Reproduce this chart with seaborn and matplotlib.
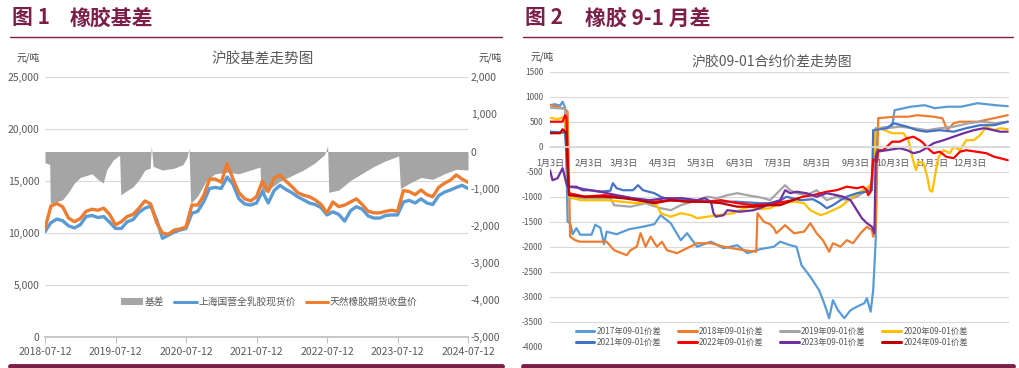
import numpy as np
import pandas as pd
import matplotlib
matplotlib.use("Agg")
import matplotlib.pyplot as plt
import seaborn as sns
from matplotlib.lines import Line2D
from matplotlib.patches import Patch
from matplotlib.ticker import FuncFormatter

sns.set_theme(style="white")
plt.rcParams["font.family"] = ["Noto Sans CJK SC", "DejaVu Sans"]
plt.rcParams["axes.unicode_minus"] = False

# ---- figure 1 data: months since 2018-07-12 ----
months = list(range(73))
year_ticks = [0, 12, 24, 36, 48, 60, 72]
year_labels = ["2018-07-12", "2019-07-12", "2020-07-12", "2021-07-12",
               "2022-07-12", "2023-07-12", "2024-07-12"]

futures = [10450, 12600, 12850, 12540, 11450, 11100, 11400, 12100, 12300, 12200,
           12400, 11800, 10800, 11100, 11600, 11800, 12400, 13100, 12800, 11000,
           10000, 9900, 10300, 10400, 10600, 12700, 12700, 13600, 15200, 15200,
           14900, 16700, 15200, 13900, 13300, 13100, 13500, 15000, 14000, 15300,
           15600, 15000, 14500, 13900, 13650, 13500, 13200, 12750, 11950, 13000,
           12550, 12700, 13000, 13300, 12750, 12100, 11950, 11950, 12100, 12200,
           12100, 14100, 14000, 13700, 14150, 13700, 13500, 14400, 14800, 15100,
           15600, 15200, 14900]

spot = [10140, 11000, 11350, 11200, 10700, 10500, 10800, 11600, 11700, 11500,
        11600, 11050, 10450, 10450, 11100, 11300, 12000, 12400, 12600, 11300,
        9500, 9800, 10100, 10300, 10450, 11900, 12100, 13000, 14300, 14400,
        14300, 15400, 14700, 13300, 12800, 12700, 12900, 14000, 12900, 14100,
        14600, 14200, 13900, 13500, 13200, 12900, 12750, 12450, 11750, 12050,
        11800, 11150, 12150, 12550, 12300, 11650, 11450, 11450, 11700, 11750,
        11750, 13000, 13150, 12900, 13300, 12900, 12750, 13600, 13950, 14150,
        14400, 14600, 14300]

basis_x = [0, 0.8, 0.9, 2, 3, 4, 5, 6, 7, 8,
           9, 9.9, 10.5, 11.6, 12.7, 12.9, 14, 15, 16, 17,
           17.9, 18.1, 18.4, 20, 22, 23.5, 24.2, 24.5, 24.8, 26,
           27.5, 29, 31, 33, 35, 36.6, 36.8, 38, 40, 42,
           44, 46, 47.6, 48.1, 48.3, 50, 52, 54, 56, 58,
           60.2, 60.5, 62, 64, 66, 68, 70, 72]
basis_y = [-300, -350, -1400, -1350, -1300, -1100, -850, -700, -650, -600,
           -750, -850, -500, -230, -100, -1170, -1050, -950, -760, -500,
           -450, 150, -400, -500, -450, -350, -150, 100, -1400, -1200,
           -770, -600, -560, -600, -500, -420, -1170, -1040, -800, -650,
           -500, -300, -80, 150, -1100, -1040, -780, -590, -400, -250,
           -120, -1000, -860, -700, -750, -600, -480, -500]

# ---- figure 2 data: day of year ----
month_ticks = [2, 33, 61, 92, 122, 153, 183, 214, 245, 275, 306, 336]
month_labels = ["1月3日", "2月3日", "3月3日", "4月3日", "5月3日", "6月3日",
                "7月3日", "8月3日", "9月3日", "10月3日", "11月3日", "12月3日"]

s2017_x = [2, 6, 10, 12, 14, 16, 18, 20, 23, 26, 35, 38, 42, 45, 47, 55, 65, 76, 85, 90,
           98, 106, 111, 119, 130, 140, 151, 159, 169, 180, 185, 193, 198, 202, 209, 216,
           220, 224, 227, 231, 236, 241, 246, 252, 254, 257, 259, 261, 262, 274, 276, 289,
           300, 308, 318, 329, 342, 356, 366]
s2017_y = [830, 850, 820, 900, 780, -1500, -1530, -1750, -1630, -1760, -1760, -1560, -1620,
           -1950, -1700, -1750, -1650, -1600, -1550, -1370, -1530, -1870, -1730, -2000, -1900,
           -2030, -1970, -2130, -2050, -2000, -1900, -1970, -2000, -2370, -2600, -2870, -3130,
           -3430, -3070, -3270, -3430, -3270, -3200, -3130, -3030, -3300, -2870, -1870, 370,
           400, 730, 800, 830, 770, 800, 800, 870, 830, 810]

s2018_x = [2, 8, 14, 16, 18, 22, 26, 47, 53, 59, 63, 66, 71, 74, 78, 82, 87, 91, 95, 103,
           111, 119, 130, 140, 156, 166, 167, 172, 177, 180, 182, 189, 196, 204, 209, 214,
           219, 224, 227, 233, 238, 243, 249, 254, 258, 259, 261, 263, 276, 287, 294, 307,
           314, 318, 323, 328, 342, 355, 366]
s2018_y = [830, 800, 750, 700, -1800, -1870, -1900, -1900, -2070, -2130, -2170, -2070, -2000,
           -1730, -2000, -1800, -2000, -1900, -2070, -2130, -2030, -1930, -1930, -2000, -2070,
           -2100, -1330, -1500, -1550, -1630, -1730, -1570, -1730, -1700, -1530, -1730, -1870,
           -2100, -1930, -2000, -1870, -1930, -1730, -1600, -1670, -1800, -1650, 570, 600, 600,
           630, 600, 570, 330, 470, 500, 500, 570, 630]

s2019_x = [2, 14, 17, 30, 50, 53, 66, 78, 90, 98, 106, 119, 127, 135, 143, 151, 159, 166,
           172, 177, 185, 189, 193, 198, 206, 214, 222, 230, 238, 246, 254, 258, 261, 270,
           280, 291, 302, 312, 323, 335, 345, 356, 366]
s2019_y = [780, 760, -1030, -1030, -1030, -1170, -1200, -1130, -1230, -1270, -1170, -1070,
           -1000, -1030, -970, -930, -970, -1000, -1030, -1070, -870, -770, -870, -930, -970,
           -870, -1070, -1000, -1070, -1000, -870, -770, 370, 370, 400, 370, 330, 370, 400, 470,
           500, 470, 500]

s2020_x = [2, 8, 14, 17, 26, 47, 59, 71, 79, 87, 90, 98, 106, 114, 119, 127, 135, 148, 153,
           161, 169, 177, 185, 196, 204, 209, 217, 222, 227, 233, 238, 243, 249, 254, 258,
           261, 264, 274, 283, 287, 290, 293, 295, 299, 302, 304, 306, 308, 311, 315, 320,
           323, 328, 333, 339, 344, 349, 355, 360, 366]
s2020_y = [580, 550, 600, -1000, -1070, -1070, -1100, -1130, -1100, -1170, -1330, -1400,
           -1330, -1370, -1430, -1400, -1370, -1330, -1270, -1200, -1250, -1230, -1130, -1100,
           -1130, -1270, -1370, -1330, -1270, -1200, -1100, -1000, -900, -830, -730, 330, 370,
           270, 270, 130, -200, -470, -300, -330, -600, -870, -900, -600, -200, -70, -130, 0,
           -70, 130, 130, 230, 400, 330, 370, 350]

s2021_x = [2, 14, 17, 26, 34, 42, 50, 52, 55, 60, 68, 72, 76, 85, 90, 98, 110, 130, 150,
           169, 182, 190, 201, 211, 217, 222, 227, 233, 238, 246, 254, 258, 259, 270, 275,
           286, 294, 301, 312, 323, 333, 344, 355, 366]
s2021_y = [300, 280, -800, -830, -870, -900, -880, -730, -830, -870, -870, -770, -870, -930,
           -1000, -1070, -1070, -1100, -1100, -1130, -1130, -1000, -1070, -1050, -1130, -1230,
           -1170, -1070, -1000, -930, -900, -870, 330, 370, 470, 400, 330, 300, 330, 300, 370,
           430, 430, 500]

s2022_x = [2, 12, 14, 15, 17, 30, 45, 60, 72, 85, 98, 112, 125, 138, 151, 164, 177, 182,
           195, 203, 211, 222, 230, 238, 246, 251, 254, 255, 257, 259, 262, 263, 267, 274,
           280, 286, 291, 296, 299, 301, 307, 312, 317, 323, 328, 333, 341, 349, 355, 360, 366]
s2022_y = [500, 500, 630, 600, -930, -1000, -970, -1000, -1070, -1100, -1070, -1100, -1100,
           -1070, -1130, -1170, -1150, -1130, -1070, -1000, -970, -900, -870, -800, -830, -800,
           -870, -970, -900, -250, -300, -70, -70, 100, 100, 170, 200, 130, 70, 0, -130, -100,
           -200, -230, -100, -70, -100, -130, -200, -230, -270]

s2023_x = [2, 4, 8, 10, 12, 15, 16, 23, 28, 34, 42, 55, 68, 81, 94, 107, 119, 125, 130, 132,
           134, 140, 143, 153, 164, 172, 177, 185, 189, 193, 198, 206, 214, 222, 230, 235,
           241, 246, 250, 254, 258, 260, 261, 262, 270, 280, 286, 291, 296, 301, 307, 315,
           323, 331, 339, 347, 355, 360, 366]
s2023_y = [-470, -670, -630, -530, -430, -730, -800, -800, -870, -870, -900, -970, -1030,
           -1070, -1030, -1030, -1070, -1030, -1100, -1330, -1400, -1370, -1270, -1300, -1270,
           -1200, -1130, -1070, -870, -930, -900, -930, -1000, -930, -970, -1000, -1070, -1270,
           -1430, -1530, -1600, -1730, -200, -100, -70, -30, -70, -130, -100, -30, 70, 130,
           200, 270, 330, 370, 330, 300, 300]

s2024_x = [2, 10, 12, 14, 15, 17, 30, 45, 60, 72, 85, 98, 112, 125, 138, 151, 164, 177,
           185, 195, 200]
s2024_y = [270, 270, 350, 300, 280, -970, -1000, -1000, -1030, -1070, -1130, -1070, -1100,
           -1100, -1130, -1200, -1200, -1170, -1170, -1070, -1030]

spread_names = ["2017年09-01价差", "2018年09-01价差", "2019年09-01价差", "2020年09-01价差",
                "2021年09-01价差", "2022年09-01价差", "2023年09-01价差", "2024年09-01价差"]
spread_colors = ["#5B9BD5", "#ED7D31", "#A5A5A5", "#FFC000",
                 "#4472C4", "#FF0000", "#7030A0", "#C00000"]
spread_x = [s2017_x, s2018_x, s2019_x, s2020_x, s2021_x, s2022_x, s2023_x, s2024_x]
spread_y = [s2017_y, s2018_y, s2019_y, s2020_y, s2021_y, s2022_y, s2023_y, s2024_y]

# ---- layout helpers ----
W, H = 1020, 368
MAROON = "#7B1E48"
TXT = "#595959"
GRID = "#D9D9D9"


def box(l, t, r, b):
    return [l / W, 1 - b / H, (r - l) / W, (b - t) / H]


fig = plt.figure(figsize=(10.2, 3.68), dpi=100)

# headers and frame lines
for x0, x1, num, name, name_x in [(10, 502, "图 1", "橡胶基差", 70),
                                  (523, 1013, "图 2", "橡胶 9-1 月差", 585)]:
    fig.text(x0 / W + 2 / W, 1 - 18 / H, num, color=MAROON, fontsize=15,
             fontweight="bold", va="center", ha="left")
    fig.text(name_x / W, 1 - 18 / H, name, color=MAROON, fontsize=15,
             fontweight="bold", va="center", ha="left")
    fig.add_artist(Line2D([x0 / W, x1 / W], [1 - 37 / H] * 2, color=MAROON, lw=1))
    fig.add_artist(Line2D([x0 / W, x1 / W], [1 - 366 / H] * 2, color=MAROON, lw=3.5))

# ---- figure 1 ----
ax_g = fig.add_axes(box(45, 77.3, 468, 337))
ax_b = ax_g.twinx()
ax_l = ax_g.twinx()

ax_g.set_xlim(0, 72)
ax_g.set_ylim(0, 25000)
ax_g.set_yticks(range(0, 25001, 5000))
ax_g.yaxis.set_major_formatter(FuncFormatter(lambda v, p: f"{int(v):,}"))
ax_g.grid(axis="y", color=GRID, lw=0.8)
ax_g.set_xticks(year_ticks)
ax_g.set_xticklabels(year_labels)
ax_g.tick_params(axis="x", colors=TXT, labelsize=7.5, length=4, width=0.8, direction="out", pad=3,
                 bottom=True, color="#BFBFBF")
ax_g.tick_params(axis="y", colors=TXT, labelsize=7.5, length=0, pad=4)
for s in ["top", "left", "right"]:
    ax_g.spines[s].set_visible(False)
ax_g.spines["bottom"].set_color("#BFBFBF")

ax_b.fill_between(basis_x, basis_y, 0, color="#A5A5A5", lw=0)
ax_b.set_ylim(-5000, 2000)
ax_b.set_yticks(range(-5000, 2001, 1000))
ax_b.yaxis.set_major_formatter(FuncFormatter(lambda v, p: f"{int(v):,}"))
ax_b.tick_params(axis="y", colors=TXT, labelsize=7.5, length=0, pad=2)
ax_b.grid(False)
for s in ax_b.spines.values():
    s.set_visible(False)

sns.lineplot(x=months, y=spot, ax=ax_l, color="#5B9BD5", lw=2.4)
sns.lineplot(x=months, y=futures, ax=ax_l, color="#ED7D31", lw=2.4)
ax_l.set_ylim(0, 25000)
ax_l.set_yticks([])
ax_l.set_xlabel("")
ax_l.set_ylabel("")
ax_l.grid(False)
for s in ax_l.spines.values():
    s.set_visible(False)

handles = [Patch(facecolor="#A5A5A5", edgecolor="none"),
           Line2D([], [], color="#5B9BD5", lw=2.2),
           Line2D([], [], color="#ED7D31", lw=2.2)]
ax_l.legend(handles, ["基差", "上海国营全乳胶现货价", "天然橡胶期货收盘价"], ncol=3,
            loc="center", bbox_to_anchor=(0.53, 0.135), frameon=False, fontsize=7,
            handlelength=2.3, handleheight=0.6, columnspacing=1.0, handletextpad=0.2,
            labelcolor=TXT)

fig.text(263 / W, 1 - 59 / H, "沪胶基差走势图", color=TXT, fontsize=10.5, ha="center", va="center")
fig.text(28 / W, 1 - 58 / H, "元/吨", color="#404040", fontsize=7, ha="center", va="center")
fig.text(490 / W, 1 - 58 / H, "元/吨", color="#404040", fontsize=7, ha="center", va="center")

# ---- figure 2 ----
ax_r = fig.add_axes(box(550, 71.7, 1009, 346.7))
for xs, ys, c, n in zip(spread_x, spread_y, spread_colors, spread_names):
    sns.lineplot(x=xs, y=ys, ax=ax_r, color=c, lw=1.6, label=n)

ax_r.set_xlim(2, 367)
ax_r.set_ylim(-4000, 1500)
ax_r.set_yticks(range(-4000, 1501, 500))
ax_r.grid(axis="y", color=GRID, lw=0.8)
ax_r.set_xticks(month_ticks)
ax_r.set_xticklabels(month_labels)
ax_r.set_xlabel("")
ax_r.set_ylabel("")
ax_r.tick_params(axis="x", colors=TXT, labelsize=6.5, length=0, pad=9)
ax_r.tick_params(axis="y", colors=TXT, labelsize=6, length=0, pad=5)
for s in ["top", "left", "right"]:
    ax_r.spines[s].set_visible(False)
ax_r.spines["bottom"].set_position(("data", 0))
ax_r.spines["bottom"].set_color(GRID)

h, l = ax_r.get_legend_handles_labels()
order = [0, 4, 1, 5, 2, 6, 3, 7]
leg = ax_r.legend([h[i] for i in order], [l[i] for i in order], ncol=4, loc="center",
                  bbox_to_anchor=((772 - 550) / 459, (346.7 - 337) / 275), frameon=False,
                  fontsize=6, handlelength=2.2, columnspacing=2.0, handletextpad=0.3,
                  labelspacing=0.15, labelcolor=TXT)
for line in leg.get_lines():
    line.set_linewidth(2.2)

fig.text(772 / W, 1 - 62 / H, "沪胶09-01合约价差走势图", color=TXT, fontsize=10,
         ha="center", va="center")
fig.text(542 / W, 1 - 57 / H, "元/吨", color="#404040", fontsize=7, ha="center", va="center")

fig.savefig("out.png", dpi=100)
